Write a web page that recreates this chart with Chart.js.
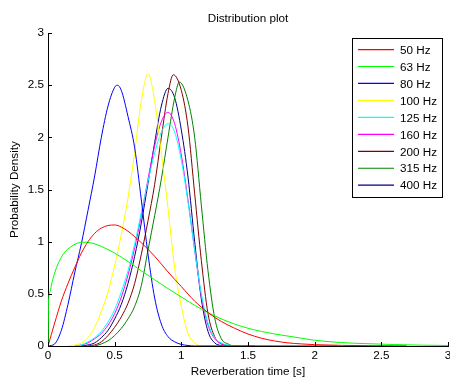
<!DOCTYPE html>
<html>
<head>
<meta charset="utf-8">
<title>Distribution plot</title>
<script src="https://cdn.jsdelivr.net/npm/chart.js@4/dist/chart.umd.min.js"></script>
<style>
  html, body { margin: 0; padding: 0; background: #ffffff; }
  #wrap { width: 450px; height: 379px; }
</style>
</head>
<body>
<div id="wrap"><canvas id="c" width="450" height="379"></canvas></div>
<script>
// Reverberation time distributions per octave / third-octave band
const bandLabels = ['50 Hz', '63 Hz', '80 Hz', '100 Hz', '125 Hz', '160 Hz', '200 Hz', '315 Hz', '400 Hz'];
const bandColors = ['#ff0000', '#00ff00', '#0000ff', '#ffff00', '#00ffff', '#ff00ff', '#800000', '#008000', '#000080'];

// 50 Hz
const t50 = [0, 0.05, 0.1, 0.15, 0.2, 0.25, 0.3, 0.35, 0.4, 0.45, 0.5, 0.55, 0.6, 0.7, 0.8, 0.9, 1.0, 1.1, 1.2, 1.3, 1.4, 1.5, 1.6, 1.7, 1.8, 1.9, 2.0, 2.2, 2.4, 2.69];
const d50 = [0, 0.22, 0.43, 0.6, 0.75, 0.89, 1.0, 1.08, 1.13, 1.155, 1.16, 1.14, 1.1, 0.99, 0.86, 0.71, 0.57, 0.43, 0.32, 0.235, 0.17, 0.115, 0.075, 0.048, 0.03, 0.02, 0.013, 0.006, 0.003, 0.001];

// 63 Hz
const t63 = [0, 0.004, 0.015, 0.03, 0.05, 0.08, 0.12, 0.17, 0.22, 0.27, 0.32, 0.4, 0.5, 0.6, 0.7, 0.8, 0.9, 1.0, 1.1, 1.2, 1.3, 1.4, 1.5, 1.6, 1.7, 1.8, 1.9, 2.0, 2.2, 2.4, 2.6, 2.8, 3.0];
const d63 = [0, 0.42, 0.52, 0.61, 0.7, 0.8, 0.89, 0.95, 0.985, 0.995, 0.99, 0.955, 0.89, 0.81, 0.72, 0.635, 0.55, 0.47, 0.39, 0.32, 0.26, 0.21, 0.17, 0.14, 0.115, 0.095, 0.075, 0.055, 0.033, 0.022, 0.014, 0.008, 0.005];

// 80 Hz
const t80 = [0, 0.05, 0.1, 0.15, 0.2, 0.25, 0.3, 0.35, 0.4, 0.45, 0.5, 0.52, 0.55, 0.6, 0.65, 0.7, 0.75, 0.8, 0.85, 0.9, 0.95, 1.0, 1.05, 1.1, 2.17];
const d80 = [0, 0.02, 0.15, 0.4, 0.7, 0.98, 1.3, 1.63, 2.0, 2.3, 2.48, 2.5, 2.45, 2.2, 1.9, 1.4, 0.88, 0.46, 0.21, 0.09, 0.04, 0.015, 0.005, 0, 0];

// 100 Hz
const t100 = [0.15, 0.2, 0.25, 0.3, 0.35, 0.4, 0.45, 0.5, 0.55, 0.6, 0.65, 0.7, 0.75, 0.8, 0.85, 0.9, 0.95, 1.0, 1.05, 1.1, 1.15, 1.68];
const d100 = [0, 0.01, 0.03, 0.08, 0.18, 0.33, 0.52, 0.77, 1.07, 1.42, 1.86, 2.35, 2.61, 2.35, 1.85, 1.32, 0.75, 0.38, 0.12, 0.03, 0, 0];

// 125 Hz
const t125 = [0.2, 0.25, 0.3, 0.35, 0.4, 0.45, 0.5, 0.55, 0.6, 0.65, 0.7, 0.75, 0.8, 0.85, 0.9, 0.95, 1.0, 1.05, 1.1, 1.15, 1.2, 1.25, 1.3, 1.35, 1.4, 1.55];
const d125 = [0, 0.01, 0.04, 0.08, 0.14, 0.23, 0.35, 0.52, 0.72, 0.98, 1.28, 1.58, 1.85, 2.05, 2.13, 2.05, 1.78, 1.38, 0.92, 0.5, 0.22, 0.08, 0.03, 0.01, 0, 0];

// 160 Hz
const t160 = [0.2, 0.25, 0.3, 0.35, 0.4, 0.45, 0.5, 0.55, 0.6, 0.65, 0.7, 0.75, 0.8, 0.85, 0.9, 0.95, 1.0, 1.05, 1.1, 1.15, 1.2, 1.25, 1.3, 1.35, 1.4, 1.55];
const d160 = [0, 0.01, 0.03, 0.07, 0.12, 0.2, 0.31, 0.47, 0.68, 0.94, 1.25, 1.6, 1.92, 2.15, 2.24, 2.13, 1.83, 1.4, 0.92, 0.48, 0.2, 0.07, 0.02, 0.005, 0, 0];

// 200 Hz
const t200 = [0.3, 0.35, 0.4, 0.45, 0.5, 0.55, 0.6, 0.65, 0.7, 0.75, 0.8, 0.85, 0.9, 0.94, 1.0, 1.05, 1.1, 1.15, 1.2, 1.25, 1.3, 1.35, 1.4, 1.55];
const d200 = [0, 0.01, 0.04, 0.1, 0.18, 0.28, 0.41, 0.6, 0.88, 1.2, 1.55, 2.0, 2.42, 2.6, 2.45, 2.1, 1.46, 0.82, 0.31, 0.09, 0.02, 0.005, 0, 0];

// 315 Hz
const t315 = [0.35, 0.4, 0.45, 0.5, 0.55, 0.6, 0.65, 0.7, 0.75, 0.8, 0.85, 0.9, 0.95, 0.985, 1.05, 1.1, 1.15, 1.2, 1.25, 1.3, 1.35, 1.4, 1.55];
const d315 = [0, 0.02, 0.05, 0.1, 0.17, 0.26, 0.38, 0.58, 0.92, 1.25, 1.6, 2.0, 2.38, 2.53, 2.35, 2.0, 1.35, 0.72, 0.27, 0.07, 0.02, 0, 0];

// 400 Hz
const t400 = [0.25, 0.3, 0.35, 0.4, 0.45, 0.5, 0.55, 0.6, 0.65, 0.7, 0.75, 0.8, 0.85, 0.9, 0.95, 1.0, 1.05, 1.1, 1.15, 1.2, 1.25, 1.3, 1.35, 1.55];
const d400 = [0, 0.01, 0.03, 0.08, 0.15, 0.26, 0.4, 0.6, 0.86, 1.18, 1.56, 1.95, 2.3, 2.47, 2.38, 2.07, 1.62, 1.0, 0.45, 0.14, 0.03, 0.005, 0, 0];

const bandTimes = [t50, t63, t80, t100, t125, t160, t200, t315, t400];
const bandDensities = [d50, d63, d80, d100, d125, d160, d200, d315, d400];

// Axis ranges and ticks
const xTicks = [0, 0.5, 1, 1.5, 2, 2.5, 3];
const yTicks = [0, 0.5, 1, 1.5, 2, 2.5, 3];

const FONT = '"Liberation Sans", Arial, Helvetica, sans-serif';
const FSIZE = 11.7;

const datasets = bandLabels.map((label, k) => ({
  label,
  data: bandTimes[k].map((t, i) => ({ x: t, y: bandDensities[k][i] })),
  borderColor: bandColors[k],
  backgroundColor: bandColors[k],
  borderWidth: 1,
  pointRadius: 0,
  fill: false,
  cubicInterpolationMode: 'monotone'
}));

// Inward tick marks on the left and bottom axes
const inwardTicks = {
  id: 'inwardTicks',
  afterDatasetsDraw(chart) {
    const ctx = chart.ctx;
    const xs = chart.scales.x, ys = chart.scales.y;
    const area = chart.chartArea;
    ctx.save();
    ctx.strokeStyle = '#000';
    ctx.lineWidth = 1;
    ctx.beginPath();
    xs.ticks.forEach((tk, i) => {
      const px = Math.round(xs.getPixelForTick(i)) + 0.5;
      ctx.moveTo(px, area.bottom);
      ctx.lineTo(px, area.bottom - 4);
    });
    ys.ticks.forEach((tk, i) => {
      const py = Math.round(ys.getPixelForTick(i)) + 0.5;
      ctx.moveTo(area.left, py);
      ctx.lineTo(area.left + 4, py);
    });
    ctx.stroke();
    ctx.restore();
  }
};

// Boxed legend in the upper right of the plot area
const boxLegend = {
  id: 'boxLegend',
  afterDraw(chart) {
    const ctx = chart.ctx;
    const area = chart.chartArea;
    const boxR = area.right - 6, boxL = boxR - 90;
    const boxT = area.top + 5, rowH = 16.96;
    const n = chart.data.datasets.length;
    const boxB = boxT + 11.5 + rowH * (n - 1) + 12;
    ctx.save();
    ctx.fillStyle = '#fff';
    ctx.fillRect(boxL, boxT, boxR - boxL, boxB - boxT);
    ctx.strokeStyle = '#000';
    ctx.lineWidth = 1;
    ctx.strokeRect(Math.round(boxL) + 0.5, Math.round(boxT) + 0.5, Math.round(boxR - boxL), Math.round(boxB - boxT));
    ctx.font = FSIZE + 'px ' + FONT;
    ctx.textAlign = 'left';
    ctx.textBaseline = 'alphabetic';
    chart.data.datasets.forEach((ds, i) => {
      const y = boxT + 11.5 + rowH * i;
      ctx.strokeStyle = ds.borderColor;
      ctx.lineWidth = 1.2;
      ctx.beginPath();
      ctx.moveTo(boxL + 6, y);
      ctx.lineTo(boxL + 42, y);
      ctx.stroke();
      ctx.fillStyle = '#000';
      ctx.fillText(ds.label, boxL + 48, y + 4.2);
    });
    ctx.restore();
  }
};

new Chart(document.getElementById('c'), {
  type: 'line',
  data: { datasets },
  plugins: [inwardTicks, boxLegend],
  options: {
    responsive: false,
    animation: false,
    devicePixelRatio: 1,
    layout: { padding: { left: 0, right: 2, top: 0, bottom: 0 } },
    plugins: {
      legend: { display: false },
      tooltip: { enabled: false },
      title: {
        display: true,
        text: 'Distribution plot',
        fullSize: false,
        color: '#000',
        font: { family: FONT, size: FSIZE, weight: 'normal' },
        padding: { top: 12.2, bottom: 6.8 }
      }
    },
    scales: {
      x: {
        type: 'linear',
        min: xTicks[0],
        max: xTicks[xTicks.length - 1],
        afterBuildTicks(s) { s.ticks = xTicks.map(v => ({ value: v })); },
        afterFit(s) { s.height = 33; s.paddingLeft = 0; s.paddingRight = 0; },
        ticks: {
          color: '#000',
          padding: 3,
          maxRotation: 0,
          font: { family: FONT, size: FSIZE },
          callback: v => String(v)
        },
        grid: { display: true, drawOnChartArea: false, drawTicks: false },
        border: { display: true, color: '#000', width: 1 },
        title: {
          display: true,
          text: 'Reverberation time [s]',
          color: '#000',
          font: { family: FONT, size: FSIZE },
          padding: { top: 0, bottom: 0 }
        }
      },
      y: {
        type: 'linear',
        min: yTicks[0],
        max: yTicks[yTicks.length - 1],
        afterBuildTicks(s) { s.ticks = yTicks.map(v => ({ value: v })); },
        afterFit(s) { s.width = 48; s.paddingTop = 0; s.paddingBottom = 0; },
        ticks: {
          color: '#000',
          padding: 4,
          font: { family: FONT, size: FSIZE },
          callback: v => String(v)
        },
        grid: { display: true, drawOnChartArea: false, drawTicks: false },
        border: { display: true, color: '#000', width: 1 },
        title: {
          display: true,
          text: 'Probability Density',
          color: '#000',
          font: { family: FONT, size: FSIZE },
          padding: { top: 8, bottom: 0 }
        }
      }
    }
  }
});
</script>
</body>
</html>
